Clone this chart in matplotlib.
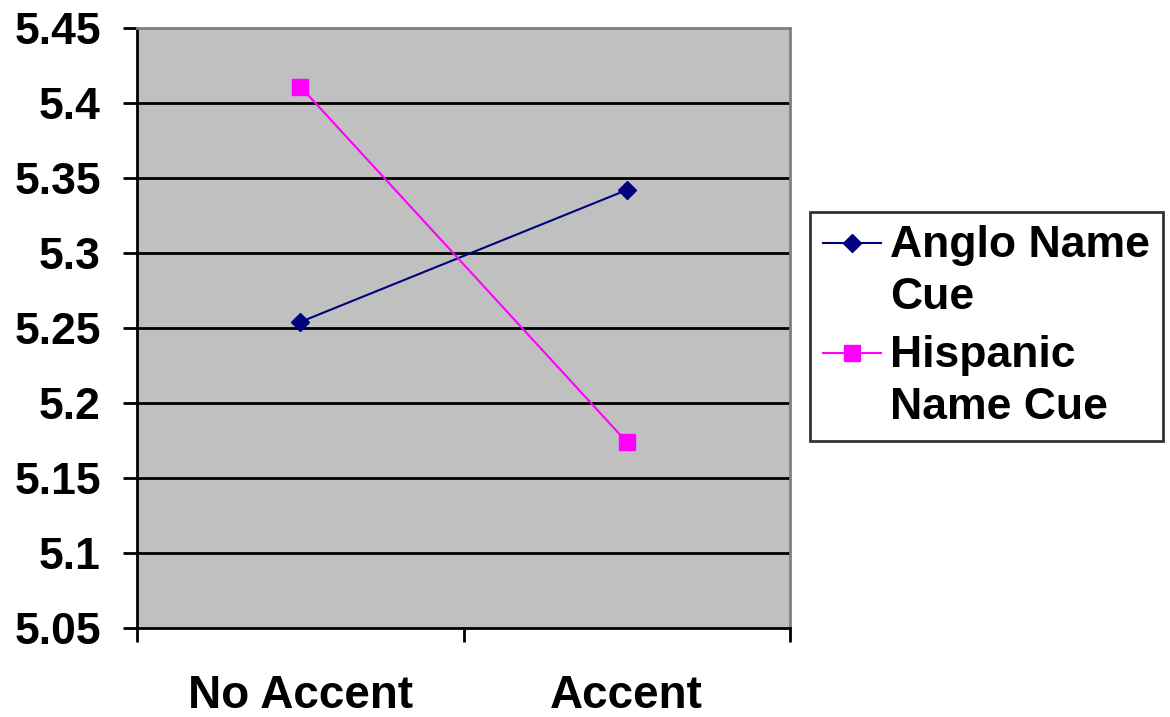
import matplotlib
matplotlib.use("Agg")
import matplotlib.pyplot as plt
from matplotlib.legend_handler import HandlerLine2D

plt.rcParams['font.family'] = ['Liberation Sans', 'DejaVu Sans']

categories = ["No Accent", "Accent"]
anglo = [5.254, 5.342]
hispanic = [5.411, 5.174]
series_labels = ["Anglo Name\nCue", "Hispanic\nName Cue"]
y_ticks = [5.05, 5.1, 5.15, 5.2, 5.25, 5.3, 5.35, 5.4, 5.45]


class TopLineHandler(HandlerLine2D):
    # put the legend key beside the first line of a wrapped label
    def create_artists(self, legend, orig_handle, xdescent, ydescent,
                       width, height, fontsize, trans):
        shift = 1.3 * fontsize * 0.5
        return super().create_artists(legend, orig_handle, xdescent,
                                      ydescent - 2 * shift, width, height,
                                      fontsize, trans)


fig = plt.figure(figsize=(11.7, 7.17), dpi=100)
ax = fig.add_axes([137 / 1170, 89 / 717, 653 / 1170, 600 / 717])
ax.set_facecolor("#C0C0C0")

xpos = [i + 0.5 for i in range(len(categories))]
l1, = ax.plot(xpos, anglo, color="#000080", marker="D", markersize=9, lw=1.5,
              label=series_labels[0], zorder=3)
l2, = ax.plot(xpos, hispanic, color="#FF00FF", marker="s", markersize=11, lw=1.5,
              label=series_labels[1], zorder=3)

ax.set_xlim(0, len(categories))
ax.set_ylim(5.05, 5.45)
ax.set_yticks(y_ticks)
ax.set_yticklabels([f"{v:g}" for v in y_ticks], fontsize=32, fontweight="bold")
for v in y_ticks[1:-1]:
    ax.axhline(v, color="black", lw=2, zorder=1)

ax.set_xticks(range(len(categories) + 1))
ax.set_xticklabels([])
ax.set_xticks(xpos, minor=True)
ax.set_xticklabels(categories, minor=True, fontsize=33, fontweight="bold")
ax.tick_params(axis="x", which="minor", length=0, pad=33)
ax.tick_params(axis="x", which="major", length=10, width=2, direction="out")
ax.tick_params(axis="y", length=10, width=2, direction="out", pad=16)

ax.spines["left"].set_color("black")
ax.spines["left"].set_linewidth(2)
ax.spines["bottom"].set_color("black")
ax.spines["bottom"].set_linewidth(2)
ax.spines["top"].set_color("#808080")
ax.spines["top"].set_linewidth(2)
ax.spines["right"].set_color("#808080")
ax.spines["right"].set_linewidth(2)

leg = fig.legend(handles=[l1, l2], loc="upper left",
                 bbox_to_anchor=(810 / 1170, 1 - 212 / 717),
                 prop={"size": 32, "weight": "bold"}, frameon=True, fancybox=False,
                 edgecolor="black", handlelength=1.3, handletextpad=0.2,
                 borderpad=0.3, labelspacing=0.4, borderaxespad=0,
                 handler_map={l1: TopLineHandler(), l2: TopLineHandler()})
leg.get_frame().set_linewidth(2)
for t in leg.get_texts():
    t.set_linespacing(1.32)

fig.savefig("out.png", dpi=100)
